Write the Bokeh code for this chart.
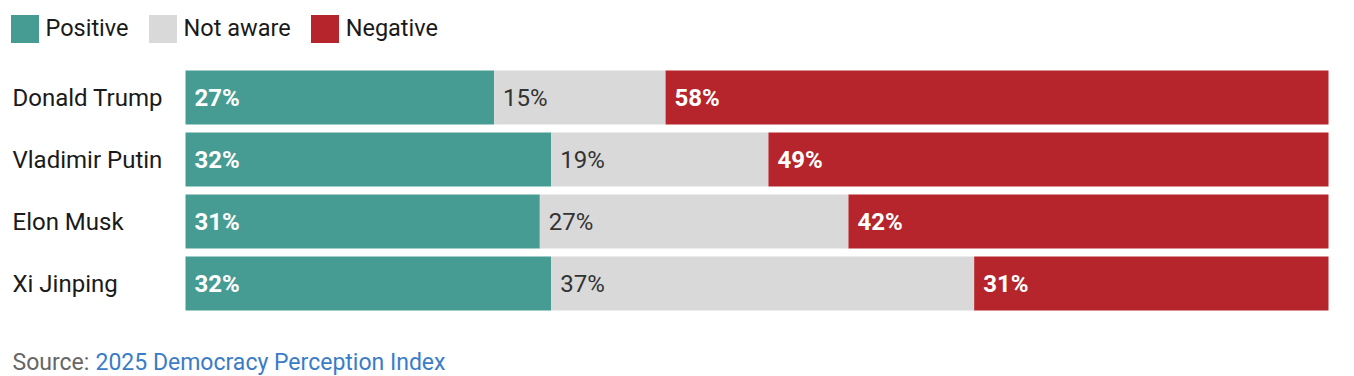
from bokeh.plotting import figure
from bokeh.models import ColumnDataSource, Range1d, Legend, LegendItem
from bokeh.core.properties import value
from bokeh.embed import file_html
from bokeh.resources import INLINE

# ---- data ----
names = ["Donald Trump", "Vladimir Putin", "Elon Musk", "Xi Jinping"]
positive = [27, 32, 31, 32]
not_aware = [15, 19, 27, 37]
negative = [58, 49, 42, 31]
series = ["Positive", "Not aware", "Negative"]
colors = ["#469c93", "#d9d9d9", "#b5252b"]
label_colors = ["#ffffff", "#333333", "#ffffff"]
label_styles = ["bold", "normal", "bold"]
source_prefix = "Source:"
source_name = "2025 Democracy Perception Index"

# ---- layout (pixels) ----
W, H = 1354, 376
PX_L, PX_R = 185, 1328
ROW0_C, PITCH, BAR_H = 97, 62, 54
FONT = "Roboto"

sx = (PX_R - PX_L) / 100.0
def xd(px):
    return (px - PX_L) / sx
def yd(py):
    return (py - ROW0_C) / PITCH

p = figure(width=W, height=H,
           x_range=Range1d(xd(0), xd(W)), y_range=Range1d(yd(H), yd(0)),
           output_backend="svg", toolbar_location=None, min_border=0,
           x_axis_location=None, y_axis_location=None,
           outline_line_color=None, background_fill_color="white",
           border_fill_color="white")
p.grid.visible = False

idx = list(range(len(names)))
vals = [positive, not_aware, negative]
left = [0] * len(names)
renderers = []
for k, s in enumerate(series):
    right = [l + v for l, v in zip(left, vals[k])]
    src = ColumnDataSource(dict(y=idx, left=left, right=right,
                                lab=[f"{v}%" for v in vals[k]]))
    r = p.hbar(y="y", left="left", right="right", height=BAR_H / PITCH,
               source=src, fill_color=colors[k], line_color=None)
    renderers.append(r)
    p.text(x="left", y="y", text="lab", source=src, x_offset=9,
           text_baseline="middle", text_align="left",
           text_font=value(FONT), text_font_size="24px",
           text_font_style=label_styles[k], text_color=label_colors[k])
    left = right

# category names
nsrc = ColumnDataSource(dict(x=[xd(12)] * len(names), y=idx, t=names))
p.text(x="x", y="y", text="t", source=nsrc, text_baseline="middle",
       text_align="left", text_font=value(FONT), text_font_size="24px",
       text_color="#1a1a1a")

# source line
p.text(x=[xd(12)], y=[yd(362)], text=[source_prefix], text_baseline="middle",
       text_align="left", text_font=value(FONT), text_font_size="23px",
       text_color="#666666")
p.text(x=[xd(95)], y=[yd(362)], text=[source_name], text_baseline="middle",
       text_align="left", text_font=value(FONT), text_font_size="23px",
       text_color="#3a7cc6")

legend = Legend(items=[LegendItem(label=s, renderers=[r]) for s, r in zip(series, renderers)],
                location=(6.5, H - 45.5), orientation="horizontal",
                glyph_width=35, glyph_height=35, label_standoff=4, spacing=16,
                padding=0, margin=0, border_line_color=None,
                background_fill_alpha=0, label_text_font=FONT,
                label_text_font_size="23.5px", label_text_color="#1a1a1a",
                label_text_baseline="middle")
p.add_layout(legend)

open("out.html", "w").write(file_html(p, INLINE))
